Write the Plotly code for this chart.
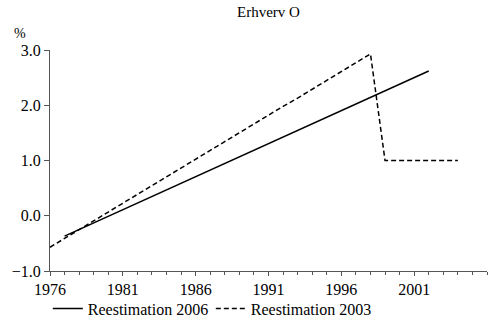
import plotly.graph_objects as go

# Annual estimates, percent
years_2006 = list(range(1977, 2003))
reest_2006 = [-0.37, -0.25, -0.13, -0.01, 0.11, 0.23, 0.35, 0.47, 0.59, 0.71,
              0.83, 0.95, 1.07, 1.19, 1.31, 1.43, 1.55, 1.67, 1.79, 1.91,
              2.03, 2.15, 2.27, 2.39, 2.51, 2.62]

years_2003 = list(range(1976, 2005))
reest_2003 = [-0.57, -0.41, -0.25, -0.09, 0.07, 0.23, 0.38, 0.54, 0.70, 0.86,
              1.02, 1.18, 1.34, 1.50, 1.66, 1.82, 1.98, 2.13, 2.29, 2.45,
              2.61, 2.77, 2.93, 1.00, 1.00, 1.00, 1.00, 1.00, 1.00]

x_ticks = [1976, 1981, 1986, 1991, 1996, 2001]
y_ticks = [-1.0, 0.0, 1.0, 2.0, 3.0]

FONT = "Times New Roman, Liberation Serif, serif"
AXIS_COLOR = "#555555"

fig = go.Figure()
fig.add_trace(go.Scatter(x=years_2006, y=reest_2006, mode="lines",
                         name="Reestimation 2006",
                         line=dict(color="black", width=1.5)))
fig.add_trace(go.Scatter(x=years_2003, y=reest_2003, mode="lines",
                         name="Reestimation 2003",
                         line=dict(color="black", width=1.5, dash="5px,3px")))

fig.update_layout(
    width=490, height=329,
    margin=dict(l=50, r=3, t=50, b=56),
    paper_bgcolor="white", plot_bgcolor="white",
    font=dict(family=FONT, size=16, color="black"),
    title=dict(text="Erhverv O", x=(50 + 487) / 2 / 490, xanchor="center",
               y=1 - 12 / 329, yanchor="middle",
               font=dict(family=FONT, size=15, color="black")),
    showlegend=True,
    legend=dict(orientation="h", x=-0.005, xanchor="left", y=-0.17, yanchor="middle",
                font=dict(family=FONT, size=16), itemwidth=30,
                entrywidth=118, entrywidthmode="pixels",
                bgcolor="rgba(0,0,0,0)", tracegroupgap=0),
    xaxis=dict(range=[1976, 2006], tickvals=x_ticks, ticktext=[str(v) for v in x_ticks],
               showgrid=False, zeroline=False, showline=True, linecolor=AXIS_COLOR,
               linewidth=1, ticks="outside", ticklen=4, tickcolor=AXIS_COLOR,
               minor=dict(dtick=1, ticks="outside", ticklen=3, tickcolor=AXIS_COLOR),
               tickfont=dict(family=FONT, size=16)),
    yaxis=dict(range=[-1, 3], tickvals=y_ticks, tickformat=".1f",
               showgrid=False, zeroline=False, showline=True, linecolor=AXIS_COLOR,
               linewidth=1, ticks="outside", ticklen=5, tickcolor=AXIS_COLOR,
               tickfont=dict(family=FONT, size=16)),
    annotations=[dict(text="%", xref="paper", yref="paper",
                      x=(20 - 50) / 437, y=(273 - 33) / 223,
                      xanchor="center", yanchor="middle", showarrow=False,
                      font=dict(family=FONT, size=14))],
)

fig.write_html("out.html")
